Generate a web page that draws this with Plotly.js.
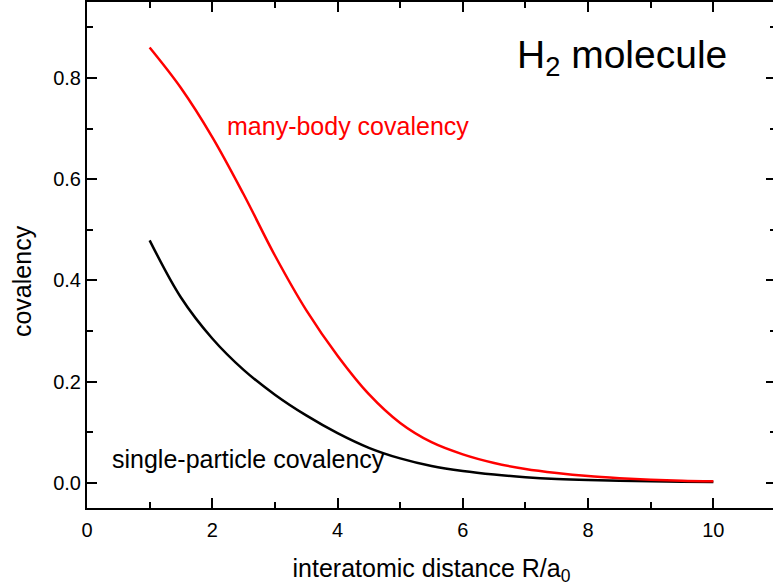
<!DOCTYPE html>
<html>
<head>
<meta charset="utf-8">
<script src="https://cdn.plot.ly/plotly-3.0.1.min.js"></script>
<style>
html, body { margin: 0; padding: 0; overflow: hidden; background: #fff; }
#chart { width: 780px; height: 587px; }
</style>
</head>
<body>
<div id="chart"></div>
<script>
// Interatomic distance R/a0
const distance = [1, 1.5, 2, 2.5, 3, 3.5, 4, 4.5, 5, 5.5, 6, 6.5, 7, 7.5, 8, 8.5, 9, 9.5, 10];
// many-body covalency (red)
const manyBody = [0.860, 0.780, 0.683, 0.570, 0.449, 0.341, 0.251, 0.175, 0.118, 0.080, 0.056, 0.039, 0.027, 0.019, 0.013, 0.009, 0.006, 0.004, 0.003];
// single-particle covalency (black)
const singleParticle = [0.479, 0.366, 0.285, 0.223, 0.174, 0.133, 0.098, 0.069, 0.048, 0.033, 0.023, 0.016, 0.011, 0.0075, 0.0052, 0.0037, 0.0027, 0.002, 0.0015];

const xTickVals = [0, 2, 4, 6, 8, 10];
const yTickVals = [0.0, 0.2, 0.4, 0.6, 0.8];
const yTickText = ['0.0', '0.2', '0.4', '0.6', '0.8'];

const FONT = '"Liberation Sans", Arial, sans-serif';

const traces = [
  { x: distance, y: singleParticle, mode: 'lines', line: { color: '#000000', width: 2.5, shape: 'spline', smoothing: 1.0 }, showlegend: false, hoverinfo: 'x+y' },
  { x: distance, y: manyBody, mode: 'lines', line: { color: '#ff0000', width: 2.5, shape: 'spline', smoothing: 1.0 }, showlegend: false, hoverinfo: 'x+y' }
];

const axisCommon = {
  showgrid: false, zeroline: false, showline: true, linecolor: '#000', linewidth: 2,
  mirror: 'allticks', ticks: 'inside', ticklen: 10, tickwidth: 2, tickcolor: '#000',
  tickfont: { family: FONT, size: 20, color: '#000' }
};

const layout = {
  width: 780, height: 587,
  margin: { l: 87, r: 4, t: 2, b: 79 },
  paper_bgcolor: '#fff', plot_bgcolor: '#fff',
  font: { family: FONT, color: '#000' },
  xaxis: Object.assign({}, axisCommon, {
    range: [0, 11], tickvals: xTickVals, ticktext: xTickVals.map(String),
    ticklabelstandoff: 3,
    minor: { ticks: 'inside', ticklen: 6, tickwidth: 2, tickcolor: '#000', tickvals: [1, 3, 5, 7, 9] },
    title: { text: 'interatomic distance R/a<sub>0</sub>', font: { family: FONT, size: 25, color: '#000' }, standoff: 19 }
  }),
  yaxis: Object.assign({}, axisCommon, {
    range: [-0.05, 0.95], tickvals: yTickVals, ticktext: yTickText,
    minor: { ticks: 'inside', ticklen: 6, tickwidth: 2, tickcolor: '#000', tickvals: [0.1, 0.3, 0.5, 0.7, 0.9] }
  }),
  annotations: [
    { x: -0.0943, y: 0.4486, xref: 'paper', yref: 'paper', xanchor: 'center', yanchor: 'middle', showarrow: false,
      textangle: -90, text: 'covalency', font: { family: FONT, size: 25, color: '#000' } },
    { x: 2.2, y: 0.704, xref: 'x', yref: 'y', xanchor: 'left', yanchor: 'middle', showarrow: false,
      text: 'many-body covalency', font: { family: FONT, size: 25, color: '#ff0000' } },
    { x: 0.37, y: 0.046, xref: 'x', yref: 'y', xanchor: 'left', yanchor: 'middle', showarrow: false,
      text: 'single-particle covalency', font: { family: FONT, size: 25, color: '#000' } },
    { x: 6.83, y: 0.84, xref: 'x', yref: 'y', xanchor: 'left', yanchor: 'middle', showarrow: false,
      text: 'H<sub>2</sub> molecule', font: { family: FONT, size: 39, color: '#000' } }
  ]
};

Plotly.newPlot('chart', traces, layout, { displayModeBar: false, staticPlot: true });
</script>
</body>
</html>
